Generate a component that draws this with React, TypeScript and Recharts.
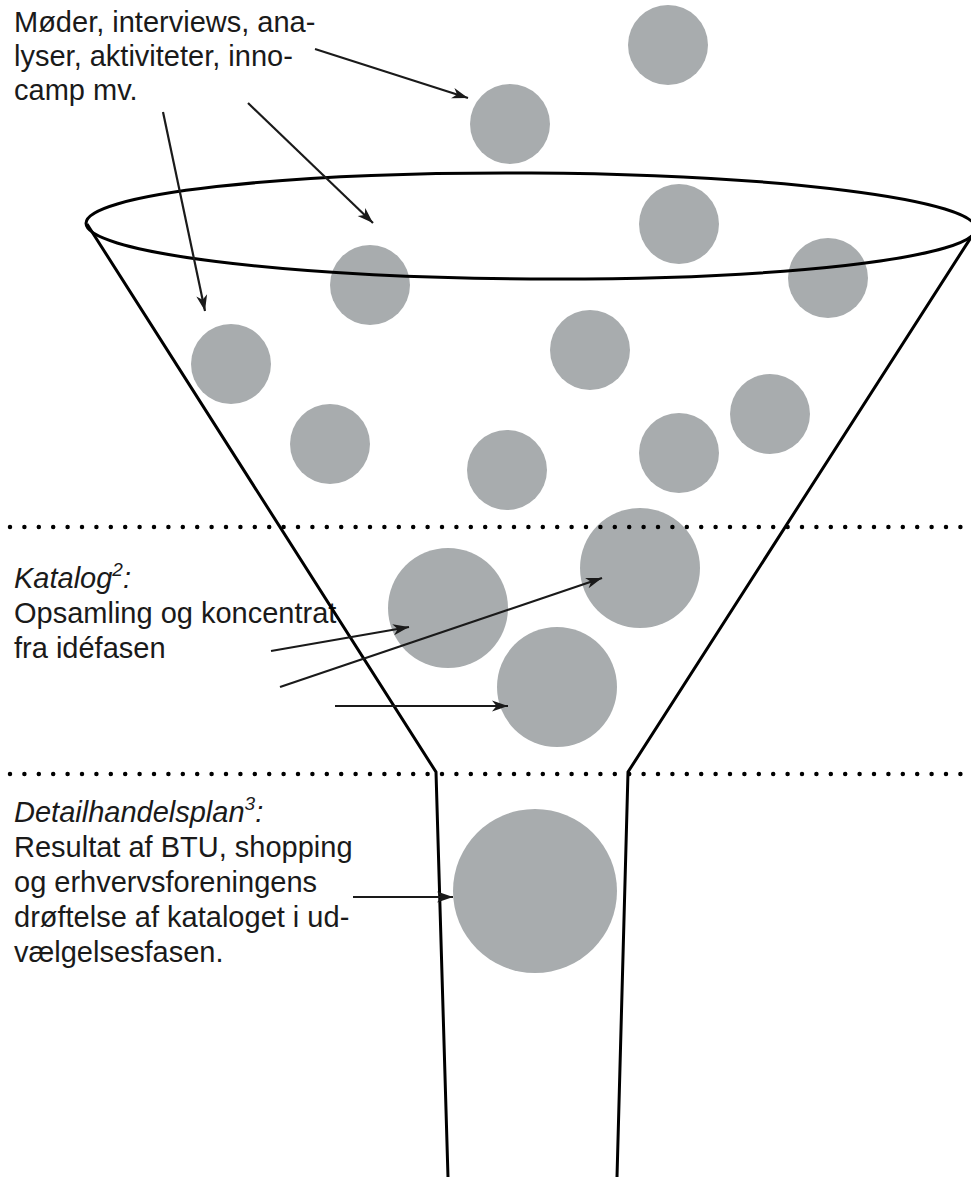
import React from 'react';
import {
  ScatterChart,
  Scatter,
  XAxis,
  YAxis,
  ReferenceDot,
  Customized,
} from 'recharts';

const W = 971;
const H = 1186;

// Circles (ideas): centre x, centre y, radius
const circleX = [668, 510, 679, 370, 828, 231, 590, 330, 507, 679, 770, 448, 640, 557, 535];
const circleY = [45, 124, 224, 285, 278, 364, 350, 444, 470, 453, 414, 608, 568, 687, 891];
const circleR = [40, 40, 40, 40, 40, 40, 40, 40, 40, 40, 40, 60, 60, 60, 82];

// Funnel outline
const funnelLeftX = [87, 436, 448];
const funnelLeftY = [224, 772, 1177];
const funnelRightX = [977, 628, 617];
const funnelRightY = [228, 772, 1177];

// Rim ellipse
const rimCenterX = 531;
const rimCenterY = 226;
const rimRx = 445;
const rimRy = 53;

// Phase dividers (dotted)
const dividerY = [527, 774];
const dividerStartX = 10;
const dividerEndX = 971;

// Arrows
const arrowFromX = [315, 248, 163, 271, 280, 335, 353];
const arrowFromY = [49, 103, 112, 651, 687, 706, 897];
const arrowToX = [468, 373, 205, 409, 602, 508, 453];
const arrowToY = [98, 223, 311, 627, 578, 706, 897];

// Texts
const topLines = ['Møder, interviews, ana-', 'lyser, aktiviteter, inno-', 'camp mv.'];
const katalogTitle = 'Katalog';
const katalogSup = '2';
const katalogLines = ['Opsamling og koncentrat', 'fra idéfasen'];
const detailTitle = 'Detailhandelsplan';
const detailSup = '3';
const detailLines = [
  'Resultat af BTU, shopping',
  'og erhvervsforeningens',
  'drøftelse af kataloget i ud-',
  'vælgelsesfasen.',
];

const circles = circleX.map((x, i) => ({ x, y: circleY[i], r: circleR[i] }));
const funnelLeft = funnelLeftX.map((x, i) => ({ x, y: funnelLeftY[i] }));
const funnelRight = funnelRightX.map((x, i) => ({ x, y: funnelRightY[i] }));
const dividers = dividerY.map((y) => [
  { x: dividerStartX, y },
  { x: dividerEndX, y },
]);
const arrows = arrowFromX.map((fx, i) => [
  { x: fx, y: arrowFromY[i], head: false, fx, fy: arrowFromY[i] },
  { x: arrowToX[i], y: arrowToY[i], head: true, fx, fy: arrowFromY[i] },
]);

const FONT = '"Liberation Sans", Arial, Helvetica, sans-serif';
const INK = '#1a1a1a';
const GREY = '#a8acae';

const CircleShape = (props: any) => {
  const { cx, cy, payload } = props;
  if (cx == null || cy == null) return null;
  return <circle cx={cx} cy={cy} r={payload.r} fill={GREY} />;
};

const NoShape = () => null;

const ArrowHead = (props: any) => {
  const { cx, cy, payload } = props;
  if (!payload || !payload.head || cx == null || cy == null) return null;
  const dx = payload.x - payload.fx;
  const dy = payload.y - payload.fy;
  const len = Math.hypot(dx, dy) || 1;
  const ux = dx / len;
  const uy = dy / len;
  const hl = 16;
  const hw = 5.5;
  const bx = cx - ux * hl;
  const by = cy - uy * hl;
  const nx = cx - ux * hl * 0.72;
  const ny = cy - uy * hl * 0.72;
  const pts = `${cx},${cy} ${bx - uy * hw},${by + ux * hw} ${nx},${ny} ${bx + uy * hw},${by - ux * hw}`;
  return <polygon points={pts} fill={INK} />;
};

const TextLayer = () => {
  const fs = 29;
  const lh = 35;
  const x = 14;
  return (
    <g fontFamily={FONT} fontSize={fs} fill={INK}>
      {topLines.map((t, i) => (
        <text key={'t' + i} x={x} y={32 + i * 34}>
          {t}
        </text>
      ))}
      <text x={x} y={588} fontStyle="italic">
        {katalogTitle}
        <tspan fontSize={19} dy={-12}>
          {katalogSup}
        </tspan>
        <tspan dy={12}>:</tspan>
      </text>
      {katalogLines.map((t, i) => (
        <text key={'k' + i} x={x} y={623 + i * lh}>
          {t}
        </text>
      ))}
      <text x={x} y={822} fontStyle="italic">
        {detailTitle}
        <tspan fontSize={19} dy={-12}>
          {detailSup}
        </tspan>
        <tspan dy={12}>:</tspan>
      </text>
      {detailLines.map((t, i) => (
        <text key={'d' + i} x={x} y={857 + i * lh}>
          {t}
        </text>
      ))}
    </g>
  );
};

export default function App() {
  return (
    <div style={{ width: W, height: H, background: '#fff' }}>
      <style>{'body{margin:0;background:#fff;}'}</style>
      <ScatterChart width={W} height={H} margin={{ top: 0, right: 0, bottom: 0, left: 0 }}>
        <XAxis type="number" dataKey="x" domain={[0, W]} hide allowDataOverflow />
        <YAxis type="number" dataKey="y" domain={[0, H]} reversed hide allowDataOverflow />

        <Scatter data={circles} shape={CircleShape} isAnimationActive={false} />

        <ReferenceDot
          x={rimCenterX}
          y={rimCenterY}
          ifOverflow="visible"
          shape={(p: any) => (
            <ellipse
              cx={p.cx}
              cy={p.cy}
              rx={rimRx}
              ry={rimRy}
              fill="none"
              stroke="#000"
              strokeWidth={3}
              transform={`rotate(0.35 ${p.cx} ${p.cy})`}
            />
          )}
        />

        <Scatter
          data={funnelLeft}
          line={{ stroke: '#000', strokeWidth: 3 }}
          shape={NoShape}
          isAnimationActive={false}
        />
        <Scatter
          data={funnelRight}
          line={{ stroke: '#000', strokeWidth: 3 }}
          shape={NoShape}
          isAnimationActive={false}
        />

        {dividers.map((d, i) => (
          <Scatter
            key={'div' + i}
            data={d}
            line={{
              stroke: '#000',
              strokeWidth: 4.5,
              strokeDasharray: '0 14.4',
              strokeLinecap: 'round',
            }}
            shape={NoShape}
            isAnimationActive={false}
          />
        ))}

        {arrows.map((a, i) => (
          <Scatter
            key={'arr' + i}
            data={a}
            line={{ stroke: INK, strokeWidth: 2.2 }}
            shape={ArrowHead}
            isAnimationActive={false}
          />
        ))}

        <Customized component={<TextLayer />} />
      </ScatterChart>
    </div>
  );
}
